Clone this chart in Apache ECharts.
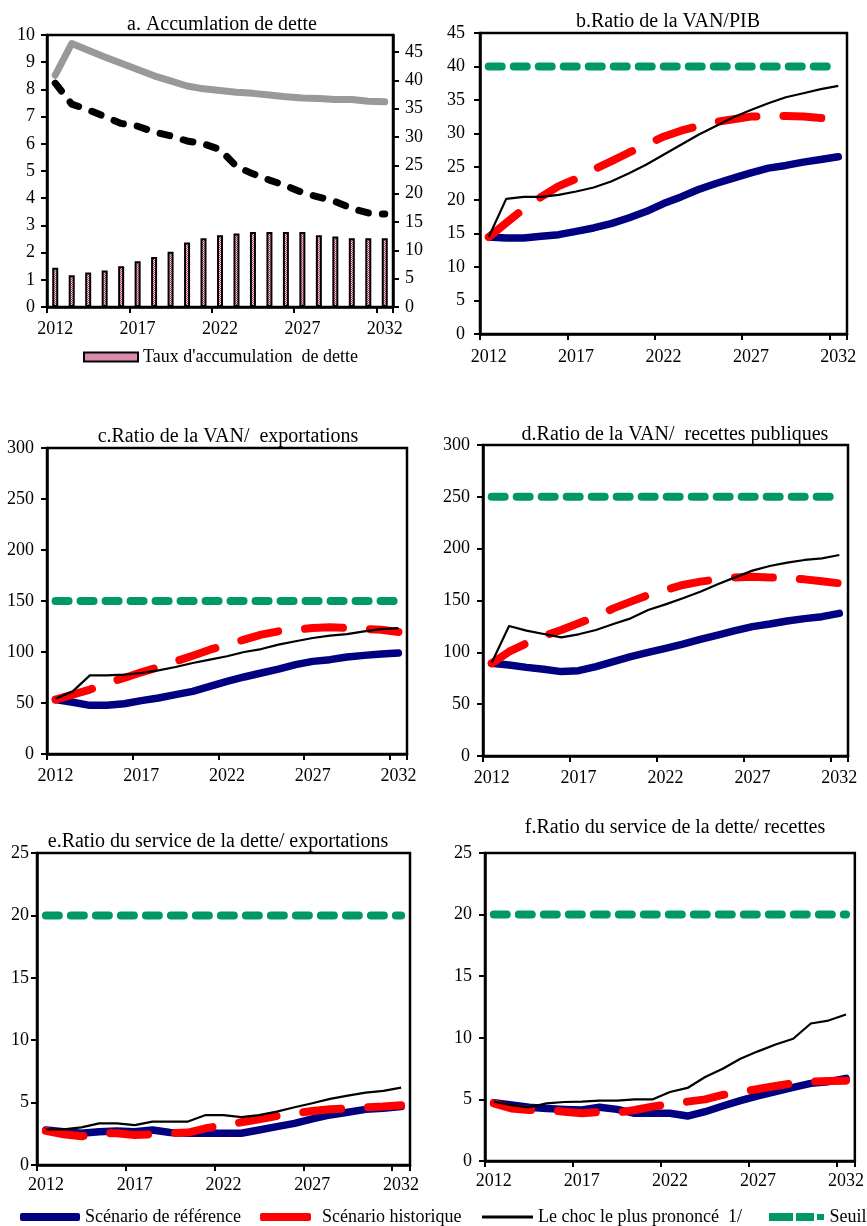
<!DOCTYPE html>
<html>
<head>
<meta charset="utf-8">
<script src="https://cdn.jsdelivr.net/npm/echarts@6/dist/echarts.min.js"></script>
<style>
  html, body { margin: 0; padding: 0; background: #fff; }
  #chart { width: 867px; height: 1226px; }
</style>
</head>
<body>
<div id="chart"></div>
<script>
// Years on every horizontal axis
const years = ['2012','2013','2014','2015','2016','2017','2018','2019','2020','2021','2022',
               '2023','2024','2025','2026','2027','2028','2029','2030','2031','2032'];

// a. debt accumulation (bars on the left scale, lines on the right scale)
const accumRate   = [1.44,1.17,1.27,1.34,1.50,1.68,1.84,2.03,2.37,2.53,2.64,2.70,2.76,2.76,2.76,2.76,2.64,2.59,2.53,2.53,2.53];
const grantElem   = [40.9,46.5,45.3,44.1,43.0,41.9,40.8,39.9,39.0,38.5,38.2,37.9,37.7,37.4,37.1,36.9,36.8,36.6,36.6,36.3,36.2];
const grantFin    = [39.5,35.8,34.8,33.6,32.4,31.9,30.9,30.2,29.3,28.8,27.8,24.8,23.5,22.4,21.4,20.2,19.4,18.6,17.4,16.6,16.4];
const rightTicks  = [0,5,10,15,20,25,30,35,40,45];

// b. NPV / GDP
const refB  = [14.5,14.35,14.35,14.6,14.85,15.35,15.85,16.5,17.35,18.3,19.5,20.5,21.6,22.5,23.3,24.1,24.8,25.2,25.7,26.1,26.5];
const histB = [14.5,16.6,18.7,20.5,22.1,23.2,24.6,25.8,27.1,28.3,29.5,30.4,31.1,31.7,32.1,32.5,32.6,32.6,32.5,32.3,31.9];
const chocB = [14.5,20.2,20.5,20.5,20.8,21.3,21.9,22.8,24.0,25.3,26.8,28.3,29.8,31.1,32.4,33.5,34.5,35.4,36.0,36.6,37.1];

// c. NPV / exports
const refC  = [53.3,50.7,47.7,47.7,49.3,52.3,54.9,58.2,61.4,66.3,71.2,75.5,79.4,83.3,87.6,90.8,92.5,95.1,96.7,98.0,99.0];
const histC = [53.3,58.2,63.1,69.6,74.5,80.1,85.0,90.8,96.4,102.3,107.2,112.1,117.0,120.3,121.9,123.5,124.2,123.5,122.5,121.9,119.6];
const chocC = [54.2,61.4,77.1,77.1,77.8,79.4,82.0,85.3,89.2,92.5,95.8,100.0,102.9,107.2,110.5,113.7,116.0,117.6,120.3,122.5,123.5];

// d. NPV / public revenue
const refD  = [89.4,87.8,85.5,83.6,81.4,82.3,86.2,91.0,95.8,100.0,103.9,108.0,112.5,116.7,120.9,124.8,127.3,130.2,132.5,134.4,137.6];
const histD = [89.4,100.6,108.7,115.8,121.5,128.0,134.4,142.4,148.9,155.3,160.1,165.0,168.2,170.4,172.3,173.0,172.3,171.7,170.4,168.5,166.6];
const chocD = [90.0,125.4,120.9,117.7,114.5,117.4,121.5,127.3,132.8,140.8,146.3,152.1,158.5,165.6,172.3,178.8,183.3,186.5,189.1,190.7,193.9];

// e. debt service / exports
const refE  = [2.8,2.67,2.54,2.67,2.72,2.67,2.8,2.6,2.54,2.54,2.54,2.54,2.8,3.07,3.34,3.69,4.01,4.22,4.46,4.55,4.68];
const histE = [2.73,2.46,2.3,2.54,2.54,2.41,2.46,2.54,2.6,2.94,3.2,3.42,3.66,3.93,4.14,4.33,4.46,4.55,4.63,4.68,4.79];
const chocE = [2.86,2.86,3.02,3.34,3.34,3.2,3.48,3.48,3.48,4.0,4.0,3.83,4.0,4.28,4.63,4.95,5.3,5.56,5.8,5.94,6.2];

// f. debt service / revenue
const refF  = [4.73,4.54,4.36,4.27,4.19,4.14,4.36,4.19,3.87,3.87,3.87,3.65,4.0,4.46,4.9,5.28,5.63,5.98,6.3,6.44,6.71];
const histF = [4.68,4.27,4.14,4.14,4.0,3.87,3.98,3.92,4.14,4.41,4.63,4.82,5.0,5.36,5.63,5.84,6.09,6.31,6.44,6.5,6.52];
const chocF = [4.82,4.54,4.36,4.68,4.79,4.82,4.9,4.9,5.0,5.0,5.6,5.93,6.82,7.49,8.3,8.9,9.46,9.92,11.16,11.4,11.89];

// Thresholds for panels b to f
const seuilValues = [40, 150, 250, 20, 20];

// Names
const NAME_REF   = 'Scénario de référence';
const NAME_HIST  = 'Scénario historique';
const NAME_CHOC  = 'Le choc le plus prononcé  1/';
const NAME_SEUIL = 'Seuil';
const NAME_ACCUM = "Taux d'accumulation  de dette";

const titles = [
  'a. Accumlation de dette',
  'b.Ratio de la VAN/PIB',
  'c.Ratio de la VAN/  exportations',
  'd.Ratio de la VAN/  recettes publiques',
  'e.Ratio du service de la dette/ exportations',
  'f.Ratio du service de la dette/ recettes'
];

const FONT = '"Liberation Serif", "Times New Roman", serif';
const BLUE = '#000080', RED = '#ff0000', GREEN = '#009966', GRAY = '#999999';

// Panel layout
const grids = [
  { left: 47,  top: 35,  width: 346, height: 272 },
  { left: 480, top: 33,  width: 367, height: 301 },
  { left: 47,  top: 448, width: 360, height: 306 },
  { left: 483, top: 445, width: 365, height: 311 },
  { left: 37,  top: 853, width: 373, height: 312 },
  { left: 485, top: 853, width: 371, height: 308 }
];
const titlePos = [[222, 25], [668, 22], [228, 437], [675, 435], [218, 842], [675, 828]];
const yScale = [
  { max: 10,  interval: 1,  margin: 12, xMargin: 13 },
  { max: 45,  interval: 5,  margin: 15, xMargin: 14 },
  { max: 300, interval: 50, margin: 13, xMargin: 13 },
  { max: 300, interval: 50, margin: 13, xMargin: 13 },
  { max: 25,  interval: 5,  margin: 8,  xMargin: 11 },
  { max: 25,  interval: 5,  margin: 13, xMargin: 11 }
];

// Dotted-check fill for the bars
const patternCanvas = document.createElement('canvas');
patternCanvas.width = 2; patternCanvas.height = 2;
(function () {
  const c = patternCanvas.getContext('2d');
  c.fillStyle = '#f6dbe6'; c.fillRect(0, 0, 2, 2);
  c.fillStyle = '#c03a74'; c.fillRect(0, 0, 1, 1); c.fillRect(1, 1, 1, 1);
})();
const barFill = { image: patternCanvas, repeat: 'repeat' };

const axisLineStyle = { color: '#000', width: 2.5 };
const tickStyle = { color: '#000', width: 2 };
const labelStyle = { color: '#000', fontFamily: FONT, fontSize: 18 };

const xAxes = grids.map((g, i) => ({
  type: 'category',
  gridIndex: i,
  data: years,
  boundaryGap: true,
  axisLine: { show: true, lineStyle: axisLineStyle },
  axisTick: { show: true, interval: 4, length: 6, lineStyle: tickStyle },
  axisLabel: Object.assign({ interval: 4, margin: yScale[i].xMargin }, labelStyle),
  splitLine: { show: false }
}));

const yAxes = [];
grids.forEach((g, i) => {
  yAxes.push({
    type: 'value',
    gridIndex: i,
    min: 0, max: yScale[i].max, interval: yScale[i].interval,
    axisLine: { show: true, lineStyle: axisLineStyle },
    axisTick: { show: true, length: 6, lineStyle: tickStyle },
    axisLabel: Object.assign({ margin: yScale[i].margin }, labelStyle),
    splitLine: { show: false }
  });
  if (i === 0) {
    yAxes.push({
      type: 'value',
      gridIndex: 0,
      position: 'right',
      min: 0, max: 48,
      axisLine: { show: true, lineStyle: axisLineStyle },
      axisTick: { show: true, length: 6, lineStyle: tickStyle, customValues: rightTicks },
      axisLabel: Object.assign({ margin: 12, customValues: rightTicks }, labelStyle),
      splitLine: { show: false }
    });
  }
});

const series = [
  {
    name: NAME_ACCUM, type: 'bar', xAxisIndex: 0, yAxisIndex: 0,
    data: accumRate, barWidth: 6,
    itemStyle: { color: barFill, borderColor: '#000', borderWidth: 2 }
  },
  {
    name: 'grantElem', type: 'line', xAxisIndex: 0, yAxisIndex: 1,
    data: grantElem, symbol: 'none', color: GRAY,
    lineStyle: { width: 7, color: GRAY, cap: 'round', join: 'round' }
  },
  {
    name: 'grantFin', type: 'line', xAxisIndex: 0, yAxisIndex: 1,
    data: grantFin, symbol: 'none', color: '#000',
    lineStyle: { width: 7, color: '#000', type: [10, 14], cap: 'round', join: 'round' }
  }
];

const panelData = [
  [refB, histB, chocB],
  [refC, histC, chocC],
  [refD, histD, chocD],
  [refE, histE, chocE],
  [refF, histF, chocF]
];
// y axis index for panel i (panel a uses two)
const yIndexOf = i => (i === 0 ? 0 : i + 1);

panelData.forEach((d, k) => {
  const gi = k + 1;
  const common = { type: 'line', xAxisIndex: gi, yAxisIndex: yIndexOf(gi), symbol: 'none', silent: true };
  series.push(Object.assign({}, common, {
    name: NAME_REF, data: d[0], color: BLUE,
    lineStyle: { width: 7.5, color: BLUE, cap: 'round', join: 'round' }
  }));
  series.push(Object.assign({}, common, {
    name: NAME_HIST, data: d[1], color: RED,
    lineStyle: { width: 8, color: RED, type: [38, 27], cap: 'round', join: 'round' }
  }));
  series.push(Object.assign({}, common, {
    name: NAME_CHOC, data: d[2], color: '#000',
    lineStyle: { width: 2.2, color: '#000', join: 'round' }
  }));
  const v = seuilValues[k];
  series.push(Object.assign({}, common, {
    name: NAME_SEUIL, data: [[years[0], v], [years[years.length - 1], v]], color: GREEN,
    lineStyle: { width: 8, color: GREEN, type: [13, 12], cap: 'round' }
  }));
});

const legendText = { color: '#000', fontFamily: FONT, fontSize: 18 };
const legends = [
  {
    data: [NAME_ACCUM], left: 83, top: 348, padding: 0,
    icon: 'rect', itemWidth: 54, itemHeight: 9,
    itemStyle: { borderColor: '#000', borderWidth: 2 },
    textStyle: legendText, selectedMode: false
  },
  {
    data: [NAME_REF], left: 20, top: 1208, padding: 0,
    icon: 'roundRect', itemWidth: 60, itemHeight: 8,
    textStyle: legendText, selectedMode: false
  },
  {
    data: [NAME_HIST], left: 260, top: 1208, padding: 0,
    icon: 'roundRect', itemWidth: 51, itemHeight: 8,
    textStyle: Object.assign({ padding: [0, 0, 0, 6] }, legendText), selectedMode: false
  },
  {
    data: [NAME_CHOC], left: 482, top: 1208, padding: 0,
    icon: 'rect', itemWidth: 51, itemHeight: 3,
    textStyle: legendText, selectedMode: false
  },
  {
    data: [NAME_SEUIL], left: 769, top: 1208, padding: 0,
    icon: 'path://M0,0H24V8H0Z M27,0H45V8H27Z M48,1H55V7H48Z', itemWidth: 56, itemHeight: 8,
    textStyle: legendText, selectedMode: false
  }
];

const graphic = titles.map((t, i) => ({
  type: 'text',
  x: titlePos[i][0], y: titlePos[i][1],
  style: { text: t, fill: '#000', fontFamily: FONT, fontSize: 20, align: 'center', verticalAlign: 'middle' }
}));

const chart = echarts.init(document.getElementById('chart'), null, { renderer: 'canvas' });
chart.setOption({
  animation: false,
  backgroundColor: '#fff',
  grid: grids.map(g => Object.assign({ show: true, borderColor: '#000', borderWidth: 2.5, containLabel: false }, g)),
  xAxis: xAxes,
  yAxis: yAxes,
  legend: legends,
  graphic: graphic,
  series: series
});
</script>
</body>
</html>
